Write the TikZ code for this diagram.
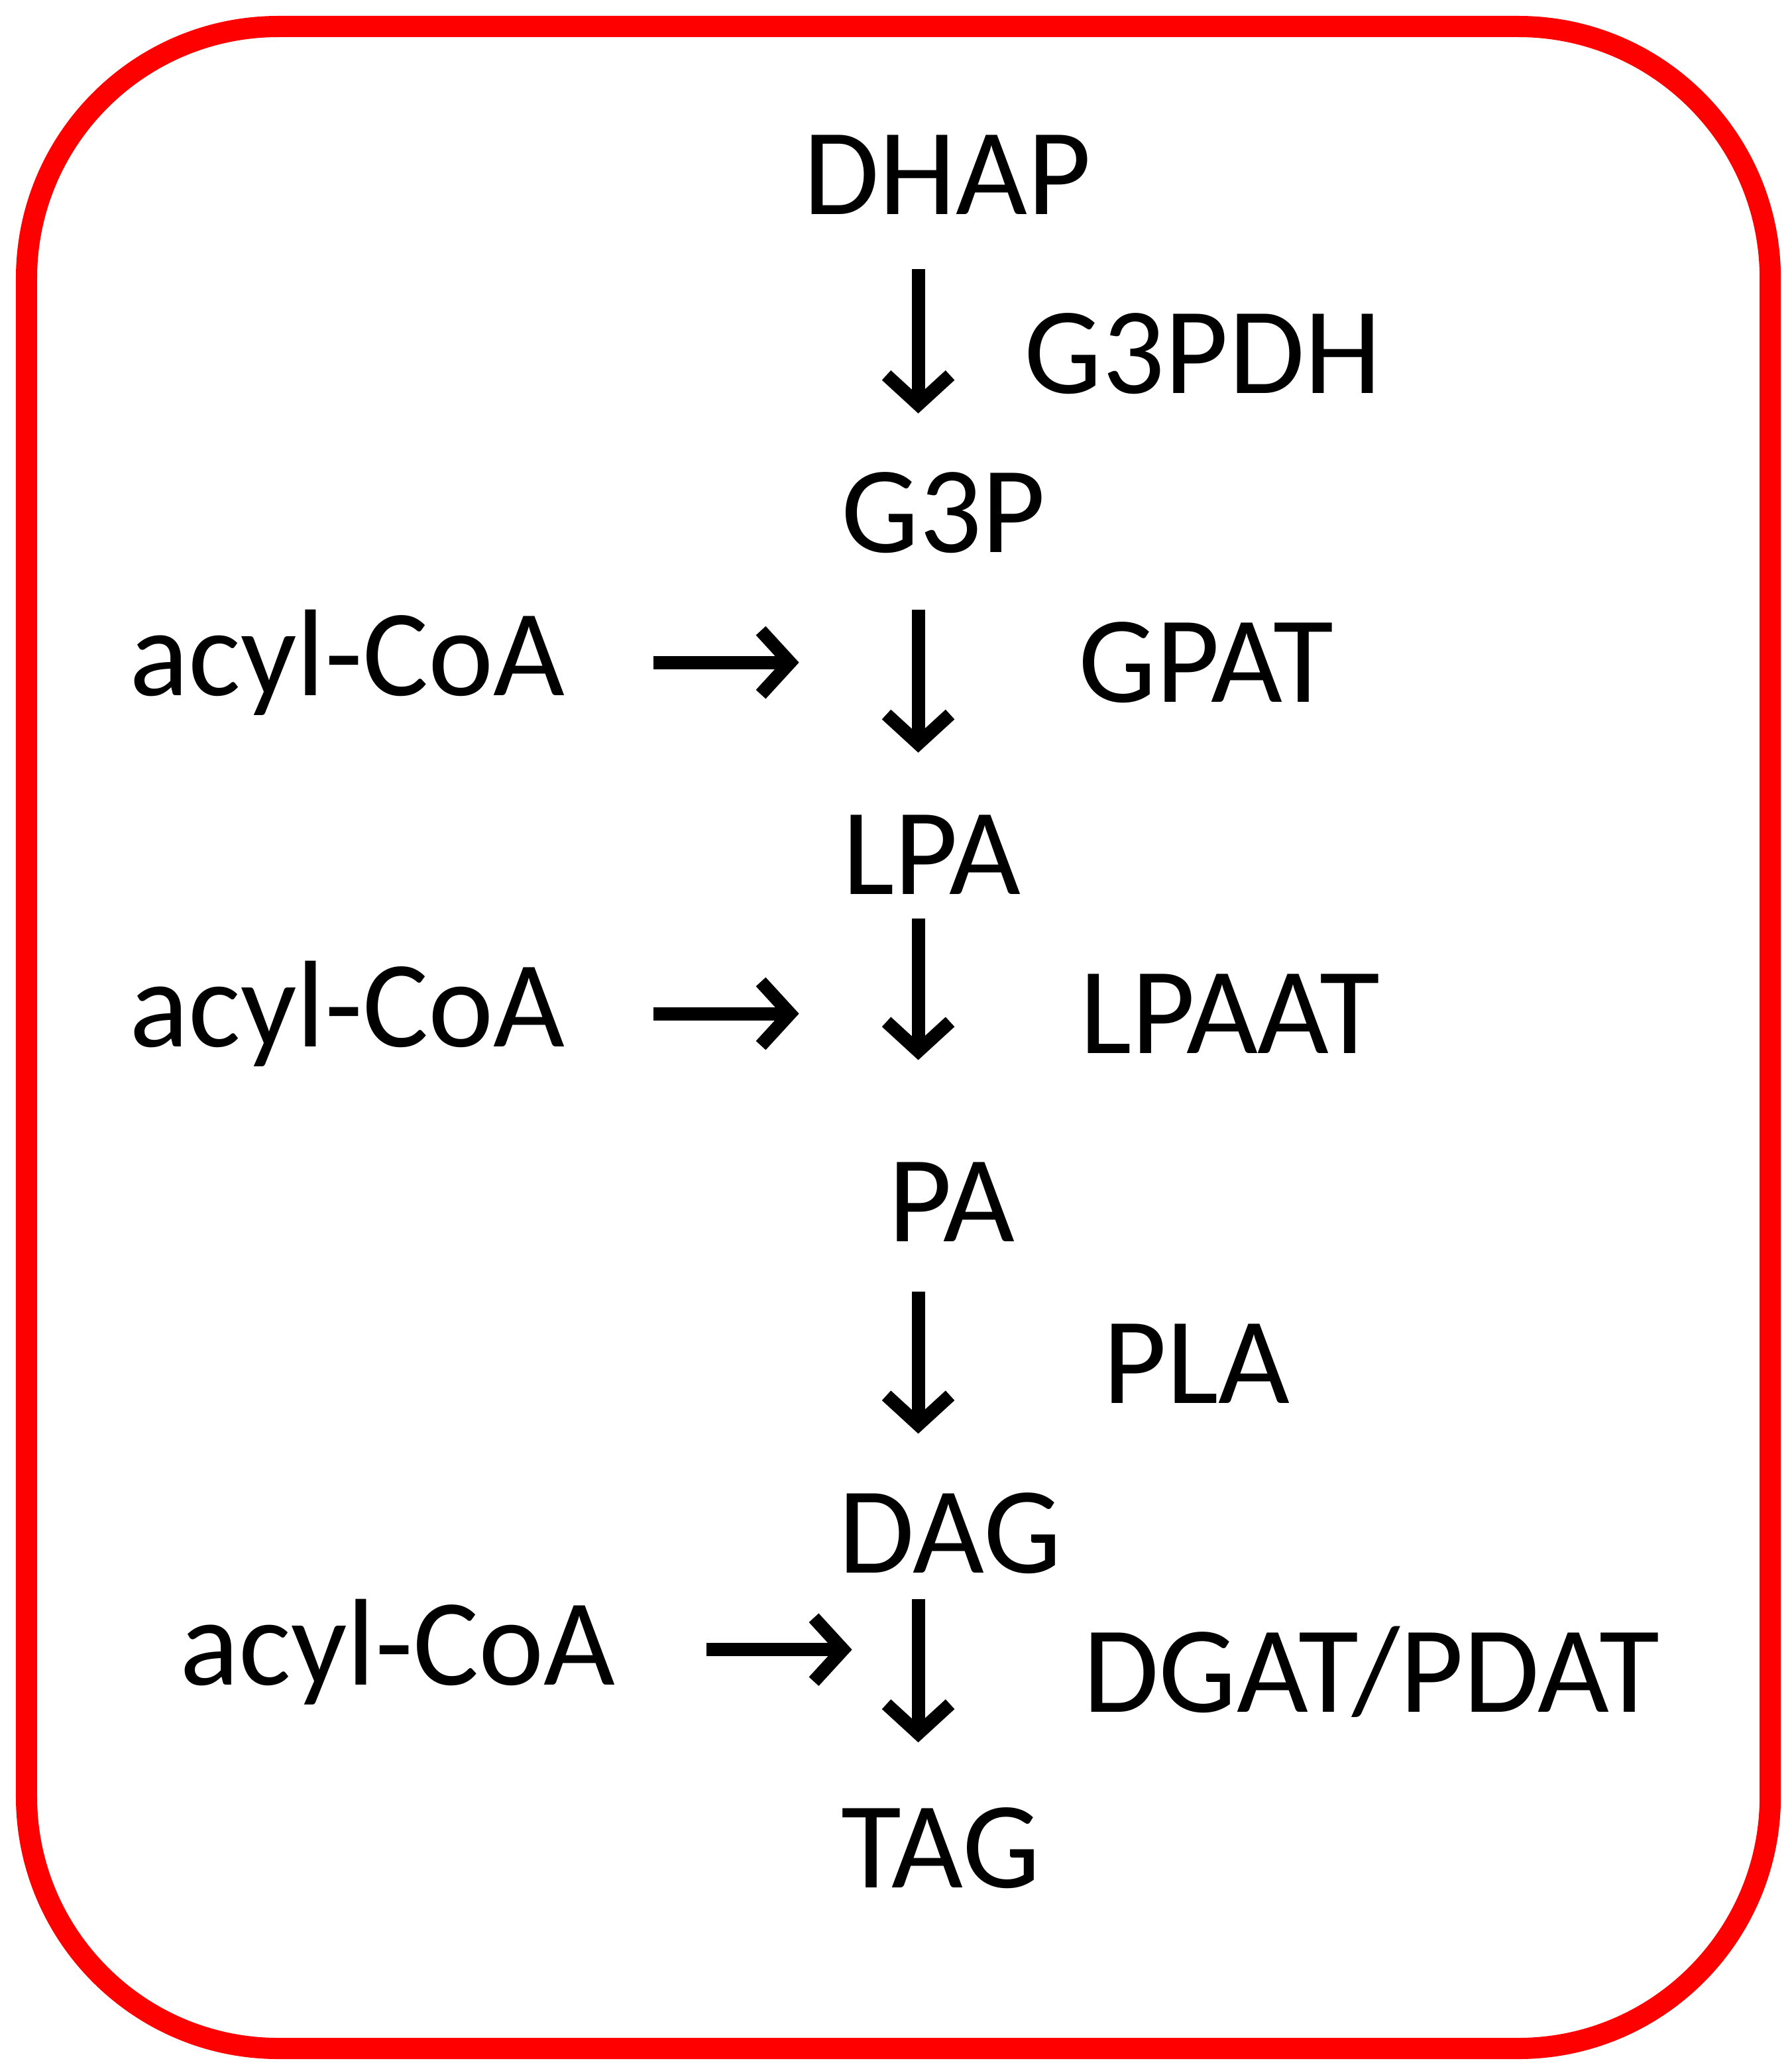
\documentclass[tikz,border=0pt]{standalone}
\usepackage{fontspec}
\setmainfont{Carlito}
\usetikzlibrary{arrows.meta}
\begin{document}
\begin{tikzpicture}[x=0.01cm,y=-0.01cm,
  lbl/.style={font=\fontsize{26.5}{30}\selectfont,inner sep=0pt},
  arr/.style={line width=0.1cm,-{Straight Barb[length=0.22cm,width=0.48cm,line width=0.1cm]}}]
\useasboundingbox (0,0) rectangle (1352,1560);
\draw[red,line width=0.16cm,rounded corners=1.9cm] (20,20) rectangle (1336,1546);
\node[lbl] (dhap) at (715,132) {DHAP};
\node[lbl] (g3pdh) at (908,267) {G3PDH};
\node[lbl] (g3p) at (712,387) {G3P};
\node[lbl] (gpat) at (910,500) {GPAT};
\node[lbl] (ac1) at (262,500) {acyl-CoA};
\node[lbl] (lpa) at (703,645) {LPA};
\node[lbl] (lpaat) at (928,765) {LPAAT};
\node[lbl] (ac2) at (262,765) {acyl-CoA};
\node[lbl] (pa) at (718,907) {PA};
\node[lbl] (pla) at (903,1029) {PLA};
\node[lbl] (dag) at (717,1157) {DAG};
\node[lbl] (dgat) at (1035,1262) {DGAT/PDAT};
\node[lbl] (ac3) at (300,1247) {acyl-CoA};
\node[lbl] (tag) at (710,1395) {TAG};
\coordinate (a1s) at (693,203); \coordinate (a1e) at (693,312);
\coordinate (a2s) at (693,460); \coordinate (a2e) at (693,568);
\coordinate (a3s) at (693,693); \coordinate (a3e) at (693,800);
\coordinate (a4s) at (693,975); \coordinate (a4e) at (693,1082);
\coordinate (a5s) at (693,1207); \coordinate (a5e) at (693,1315);
\coordinate (h1s) at (493,500); \coordinate (h1e) at (603,500);
\coordinate (h2s) at (493,765); \coordinate (h2e) at (603,765);
\coordinate (h3s) at (533,1245); \coordinate (h3e) at (643,1245);
\foreach \s/\e in {a1s/a1e,a2s/a2e,a3s/a3e,a4s/a4e,a5s/a5e,h1s/h1e,h2s/h2e,h3s/h3e}
  \draw[arr] (\s) -- (\e);
\end{tikzpicture}
\end{document}
